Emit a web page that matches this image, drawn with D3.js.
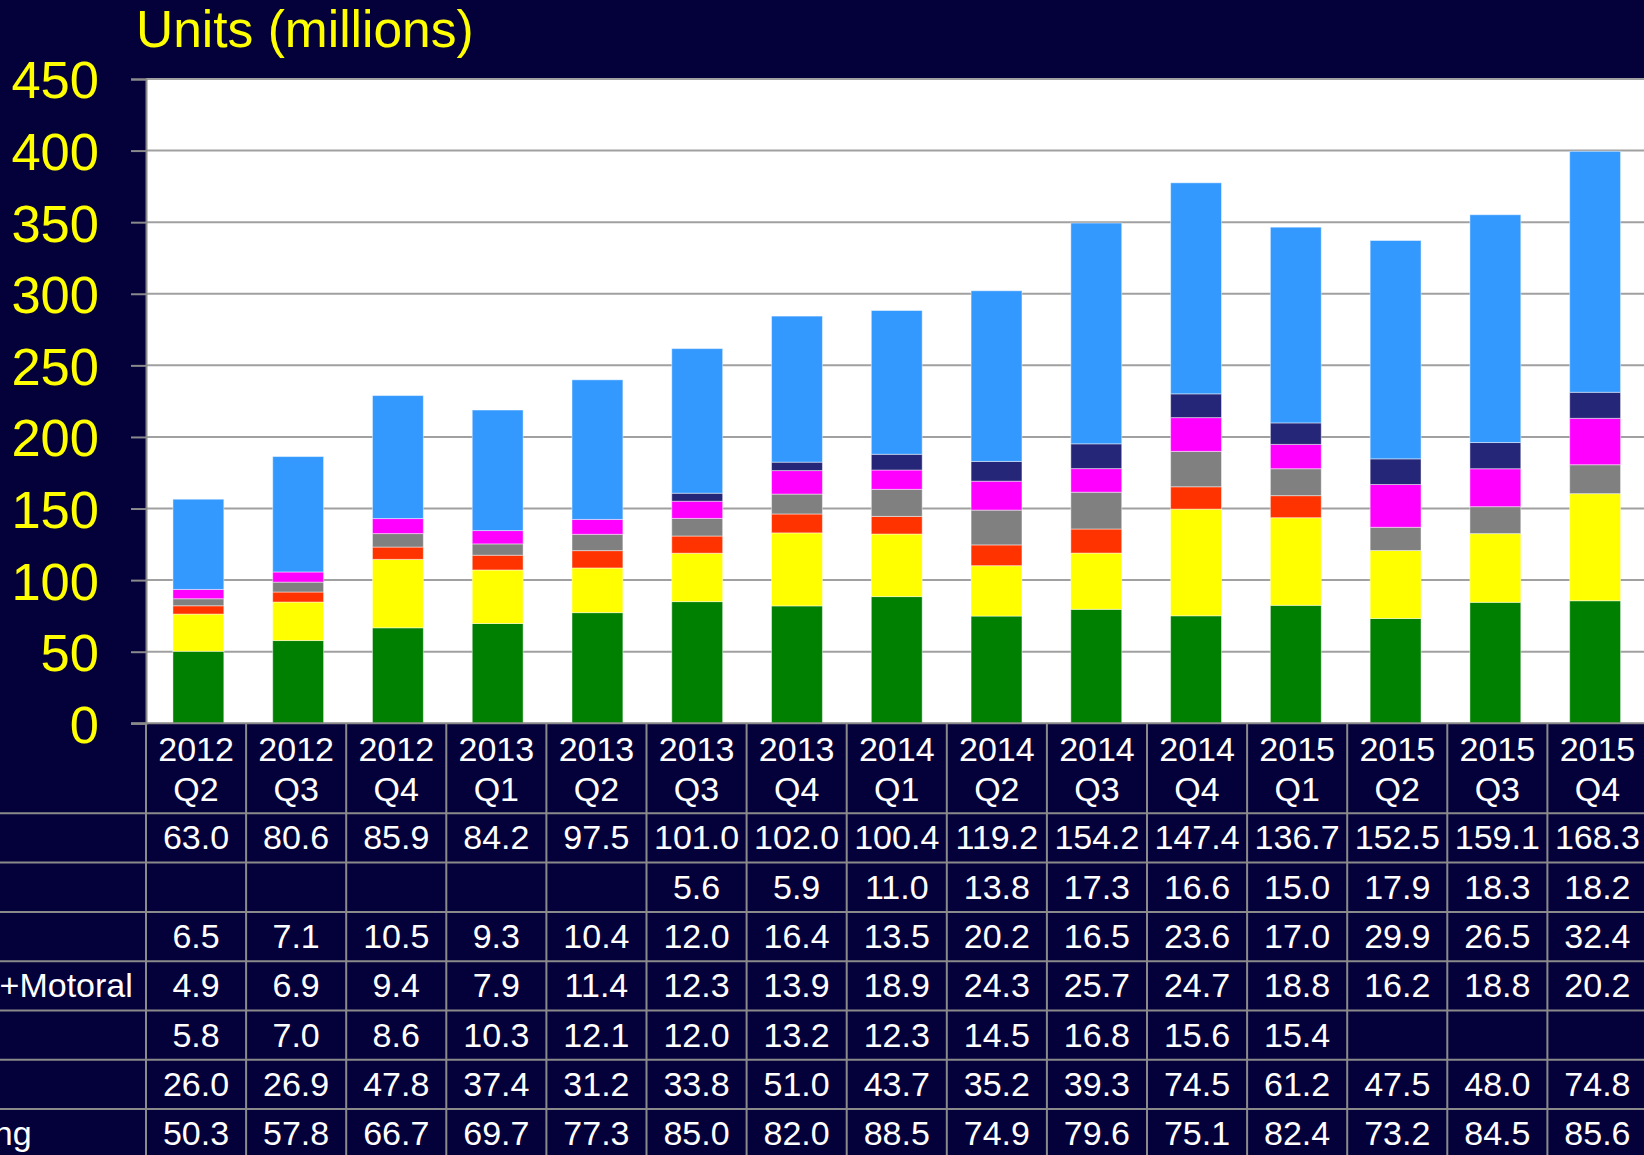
<!DOCTYPE html>
<html>
<head>
<meta charset="utf-8">
<script src="https://cdn.jsdelivr.net/npm/d3@7/dist/d3.min.js"></script>
<style>
html,body{margin:0;padding:0;background:#04003a;overflow:hidden;}
svg{display:block;}
text{font-family:"Liberation Sans",Arial,sans-serif;}
</style>
</head>
<body>
<svg id="chart" width="1644" height="1155"></svg>
<script>
// ---- data ----
const categories = ["2012 Q2","2012 Q3","2012 Q4","2013 Q1","2013 Q2","2013 Q3","2013 Q4","2014 Q1","2014 Q2","2014 Q3","2014 Q4","2015 Q1","2015 Q2","2015 Q3","2015 Q4"];
const yTicks = [0,50,100,150,200,250,300,350,400,450];
const titleText = "Units (millions)";
// table rows, top to bottom
const seriesNames = ["Others","Xiaomi","Huawei","Lenovo+Motoral","LG","Apple","Samsung"];
const others  = [63.0,80.6,85.9,84.2,97.5,101.0,102.0,100.4,119.2,154.2,147.4,136.7,152.5,159.1,168.3];
const xiaomi  = [null,null,null,null,null,5.6,5.9,11.0,13.8,17.3,16.6,15.0,17.9,18.3,18.2];
const huawei  = [6.5,7.1,10.5,9.3,10.4,12.0,16.4,13.5,20.2,16.5,23.6,17.0,29.9,26.5,32.4];
const lenovo  = [4.9,6.9,9.4,7.9,11.4,12.3,13.9,18.9,24.3,25.7,24.7,18.8,16.2,18.8,20.2];
const lg      = [5.8,7.0,8.6,10.3,12.1,12.0,13.2,12.3,14.5,16.8,15.6,15.4,null,null,null];
const apple   = [26.0,26.9,47.8,37.4,31.2,33.8,51.0,43.7,35.2,39.3,74.5,61.2,47.5,48.0,74.8];
const samsung = [50.3,57.8,66.7,69.7,77.3,85.0,82.0,88.5,74.9,79.6,75.1,82.4,73.2,84.5,85.6];
const seriesColors = ["#3399ff","#262678","#ff00ff","#808080","#ff3300","#ffff00","#008000"];

const seriesValues = [others,xiaomi,huawei,lenovo,lg,apple,samsung];
// stack order: bottom to top = table bottom to top
const stackKeys = seriesNames.slice().reverse();
const rows = categories.map((c,i)=>{
  const o = {cat:c};
  seriesNames.forEach((n,k)=>{ o[n] = seriesValues[k][i] == null ? 0 : seriesValues[k][i]; });
  return o;
});
const colorOf = d3.scaleOrdinal().domain(seriesNames).range(seriesColors);

// ---- layout ----
const W = 1644, H = 1155;
const plotL = 146, plotT = 79, plotB = 723.3, colW = 100.1;
const plotR = plotL + colW*categories.length;
const headerB = 813.3, rowH = 49.3;
const tableFont = 34;

const svg = d3.select("#chart");
svg.append("rect").attr("width",W).attr("height",H).attr("fill","#04003a");

// plot background
svg.append("rect").attr("x",plotL).attr("y",plotT).attr("width",W-plotL).attr("height",plotB-plotT).attr("fill","#ffffff");

const x = d3.scaleBand().domain(categories).range([plotL, plotR]).paddingInner(0.49).paddingOuter(0.27);
const y = d3.scaleLinear().domain([0,450]).range([plotB, plotT]);

// gridlines
svg.append("g").selectAll("line").data(yTicks.filter(t=>t>0)).join("line")
  .attr("x1",plotL).attr("x2",W).attr("y1",d=>y(d)).attr("y2",d=>y(d))
  .attr("stroke","#a0a0a0").attr("stroke-width",2);

// y axis
const yAxis = d3.axisLeft(y).tickValues(yTicks).tickSize(15).tickPadding(32).tickFormat(d3.format("d"));
const gy = svg.append("g").attr("transform",`translate(${plotL},0)`).call(yAxis);
gy.select(".domain").attr("stroke","#8a8a8a").attr("stroke-width",2);
gy.selectAll(".tick line").attr("stroke","#8a8a8a").attr("stroke-width",2);
gy.selectAll(".tick text").attr("fill","#ffff00").attr("font-size",52.5)
  .attr("font-family",'"Liberation Sans",Arial,sans-serif').attr("dy","0.36em");

// bars
const stacked = d3.stack().keys(stackKeys)(rows);
const gBars = svg.append("g");
stacked.forEach(layer=>{
  gBars.append("g").attr("fill",colorOf(layer.key))
    .selectAll("rect").data(layer.filter(d=>d[1]-d[0]>0)).join("rect")
    .attr("x",d=>x(d.data.cat)).attr("width",x.bandwidth())
    .attr("y",d=>y(d[1])).attr("height",d=>y(d[0])-y(d[1]))
    .attr("stroke","rgba(255,255,255,0.45)").attr("stroke-width",1);
});

// title
svg.append("text").attr("x",136).attr("y",47).attr("fill","#ffff00").attr("font-size",51.5).text(titleText);

// ---- data table ----
const gT = svg.append("g");
const lineCol = "#8a8a8a";
// x axis / table top line
gT.append("line").attr("x1",131).attr("x2",W).attr("y1",plotB).attr("y2",plotB).attr("stroke",lineCol).attr("stroke-width",2);
// horizontal row lines
const rowLines = d3.range(seriesNames.length+1).map(k=>headerB + k*rowH);
gT.selectAll("line.h").data(rowLines).join("line").attr("class","h")
  .attr("x1",0).attr("x2",W).attr("y1",d=>d).attr("y2",d=>d)
  .attr("stroke",lineCol).attr("stroke-width",2);
// vertical lines
gT.selectAll("line.v").data(d3.range(categories.length+1)).join("line").attr("class","v")
  .attr("x1",d=>plotL+d*colW).attr("x2",d=>plotL+d*colW).attr("y1",plotB).attr("y2",H)
  .attr("stroke",lineCol).attr("stroke-width",2);
// header labels
const colCenter = c => plotL + (categories.indexOf(c)+0.5)*colW;
const hdr = gT.selectAll("text.hdr").data(categories).join("text").attr("class","hdr")
  .attr("text-anchor","middle").attr("fill","#ffffff").attr("font-size",tableFont);
hdr.append("tspan").attr("x",d=>colCenter(d)).attr("y",761).text(d=>d.split(" ")[0]);
hdr.append("tspan").attr("x",d=>colCenter(d)).attr("y",800.5).text(d=>d.split(" ")[1]);
// rows
seriesNames.forEach((name,k)=>{
  const base = headerB + k*rowH + 36;
  gT.append("text").attr("x",-112).attr("y",base).attr("fill","#ffffff").attr("font-size",tableFont).text(name);
  gT.append("g").selectAll("text").data(categories.map((c,i)=>({c, v:seriesValues[k][i]})).filter(d=>d.v!=null))
    .join("text").attr("x",d=>colCenter(d.c)).attr("y",base).attr("text-anchor","middle")
    .attr("fill","#ffffff").attr("font-size",tableFont).text(d=>d3.format(".1f")(d.v));
});
</script>
</body>
</html>
